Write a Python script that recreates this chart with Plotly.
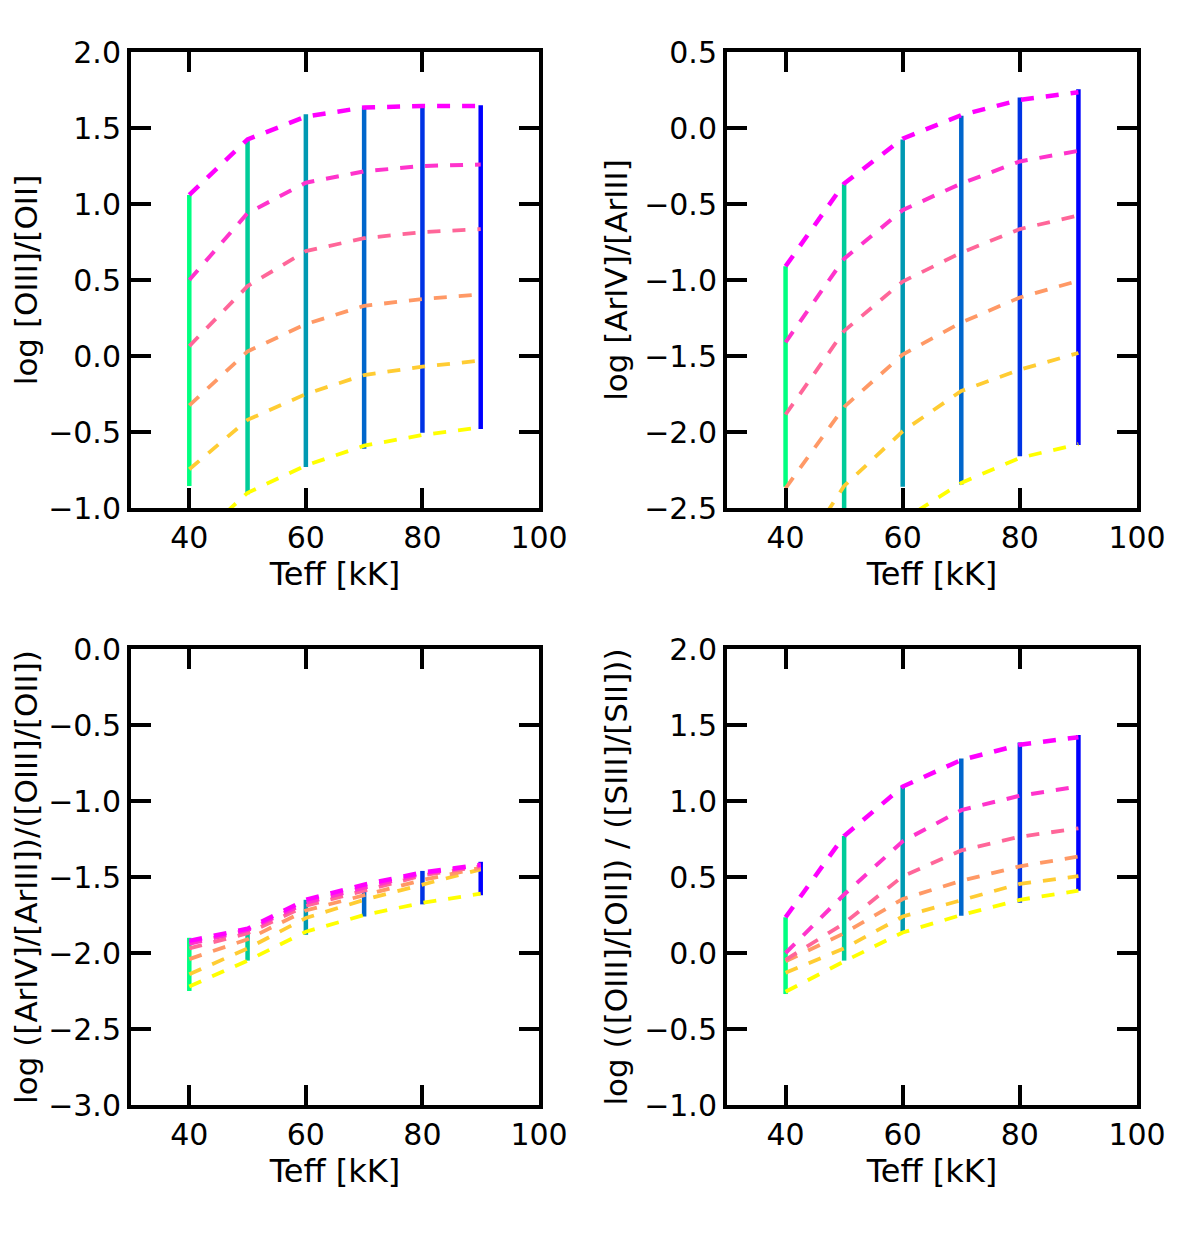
import plotly.graph_objects as go

# Teff grid [kK]
teff = [40, 50, 60, 70, 80, 90]

# --- panel 1: log [OIII]/[OII]
p1_c1 = [1.06, 1.425, 1.575, 1.635, 1.645, 1.645]
p1_c2 = [0.50, 0.94, 1.14, 1.215, 1.25, 1.26]
p1_c3 = [0.065, 0.46, 0.69, 0.775, 0.815, 0.835]
p1_c4 = [-0.325, 0.03, 0.21, 0.33, 0.375, 0.405]
p1_c5 = [-0.745, -0.42, -0.25, -0.125, -0.07, -0.03]
p1_c6 = [-1.25, -0.90, -0.72, -0.59, -0.52, -0.47]
p1_lo = [-0.855, -0.91, -0.73, -0.61, -0.505, -0.48]
p1_hi = [1.06, 1.425, 1.59, 1.64, 1.645, 1.65]

# --- panel 2: log [ArIV]/[ArIII]
p2_c1 = [-0.91, -0.365, -0.07, 0.085, 0.185, 0.235]
p2_c2 = [-1.41, -0.86, -0.54, -0.365, -0.22, -0.15]
p2_c3 = [-1.885, -1.335, -1.01, -0.82, -0.665, -0.575]
p2_c4 = [-2.37, -1.835, -1.49, -1.28, -1.115, -1.005]
p2_c5 = [-2.95, -2.355, -1.995, -1.73, -1.59, -1.48]
p2_c6 = [-3.5, -3.0, -2.58, -2.335, -2.17, -2.08]
p2_lo = [-2.36, -3.0, -2.36, -2.345, -2.16, -2.085]
p2_hi = [-0.91, -0.37, -0.075, 0.08, 0.20, 0.255]

# --- panel 3: log ([ArIV]/[ArIII])/([OIII]/[OII])
p3_c1 = [-1.92, -1.84, -1.65, -1.55, -1.47, -1.42]
p3_c2 = [-1.94, -1.85, -1.67, -1.57, -1.48, -1.42]
p3_c3 = [-1.97, -1.87, -1.69, -1.59, -1.49, -1.43]
p3_c4 = [-2.04, -1.91, -1.72, -1.62, -1.52, -1.44]
p3_c5 = [-2.14, -1.97, -1.77, -1.65, -1.55, -1.45]
p3_c6 = [-2.22, -2.05, -1.86, -1.75, -1.67, -1.61]
p3_lo = [-2.25, -2.05, -1.88, -1.76, -1.68, -1.62]
p3_hi = [-1.90, -1.85, -1.65, -1.55, -1.46, -1.40]

# --- panel 4: log (([OIII]/[OII]) / ([SIII]/[SII]))
p4_c1 = [0.235, 0.77, 1.095, 1.27, 1.37, 1.42]
p4_c2 = [0.0, 0.385, 0.735, 0.94, 1.035, 1.095]
p4_c3 = [-0.045, 0.195, 0.505, 0.675, 0.765, 0.82]
p4_c4 = [-0.055, 0.13, 0.355, 0.475, 0.57, 0.635]
p4_c5 = [-0.13, 0.03, 0.24, 0.345, 0.455, 0.505]
p4_c6 = [-0.255, -0.055, 0.135, 0.25, 0.35, 0.41]
p4_lo = [-0.27, -0.05, 0.14, 0.245, 0.33, 0.41]
p4_hi = [0.235, 0.77, 1.095, 1.28, 1.385, 1.435]

ytitles = [
    "log [OIII]/[OII]",
    "log [ArIV]/[ArIII]",
    "log ([ArIV]/[ArIII])/([OIII]/[OII])",
    "log (([OIII]/[OII]) / ([SIII]/[SII]))",
]
yranges = [[-1, 2], [-2.5, 0.5], [-3, 0], [-1, 2]]

# spring colormap (magenta -> yellow) for the dashed curves
curve_cols = ["#ff00ff", "#ff33cc", "#ff6699", "#ff9966", "#ffcc33", "#ffff00"]
curve_w = [4.5, 4, 3.8, 3.8, 3.8, 3.8]
# winter colormap reversed (green -> blue) for the vertical lines
vline_cols = ["#00ff80", "#00cc99", "#0099b2", "#0066cc", "#0033e5", "#0000ff"]

panels = [
    ([p1_c1, p1_c2, p1_c3, p1_c4, p1_c5, p1_c6], p1_lo, p1_hi),
    ([p2_c1, p2_c2, p2_c3, p2_c4, p2_c5, p2_c6], p2_lo, p2_hi),
    ([p3_c1, p3_c2, p3_c3, p3_c4, p3_c5, p3_c6], p3_lo, p3_hi),
    ([p4_c1, p4_c2, p4_c3, p4_c4, p4_c5, p4_c6], p4_lo, p4_hi),
]

# page body has an 8px margin, so the figure is shifted by that
OFF = 8
W, H = 1200 - 2 * OFF, 1233 - 2 * OFF
xdoms = [[(131 - OFF) / W, (539 - OFF) / W], [(727 - OFF) / W, (1137 - OFF) / W]]
ydoms = [[1 - (508 - OFF) / H, 1 - (52 - OFF) / H], [1 - (1105 - OFF) / H, 1 - (649 - OFF) / H]]

fig = go.Figure()
font = "DejaVu Sans"

for i, (curves, lo, hi) in enumerate(panels):
    n = "" if i == 0 else str(i + 1)
    xa, ya = "x" + n, "y" + n
    for j, t in enumerate(teff):
        fig.add_trace(go.Scatter(x=[t, t], y=[lo[j], hi[j]], mode="lines",
                                 line=dict(color=vline_cols[j], width=4.5),
                                 xaxis=xa, yaxis=ya, showlegend=False))
    for k in range(5, -1, -1):
        fig.add_trace(go.Scatter(x=teff, y=curves[k], mode="lines",
                                 line=dict(color=curve_cols[k], width=curve_w[k], dash="13px,12px"),
                                 xaxis=xa, yaxis=ya, showlegend=False))

    axis_common = dict(showline=True, linewidth=4, linecolor="black", mirror="ticks",
                       ticks="inside", ticklen=20, tickwidth=4, tickcolor="black",
                       showgrid=False, zeroline=False, automargin=False,
                       tickfont=dict(family=font, size=30, color="black"))
    r, c = divmod(i, 2)
    fig.layout["xaxis" + n] = dict(axis_common, domain=xdoms[c], range=[30, 100],
                                   tickvals=[40, 60, 80, 100], anchor=ya,
                                   title=dict(text="Teff [kK]", standoff=8,
                                              font=dict(family=font, size=32, color="black")))
    fig.layout["yaxis" + n] = dict(axis_common, domain=ydoms[r], range=yranges[i],
                                   dtick=0.5, tickformat=".1f", anchor=xa,
                                   title=dict(text=ytitles[i], standoff=8,
                                              font=dict(family=font, size=31, color="black")))

fig.update_layout(width=W, height=H, margin=dict(l=0, r=0, t=0, b=0),
                  plot_bgcolor="white", paper_bgcolor="white",
                  font=dict(family=font, color="black"))

fig.write_html("out.html")
